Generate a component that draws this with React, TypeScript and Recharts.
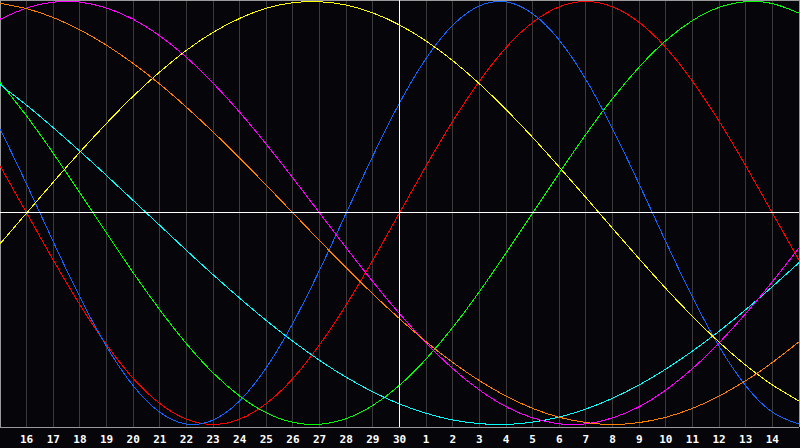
import { LineChart, Line, XAxis, YAxis, CartesianGrid, ReferenceLine } from "recharts";

// day of month for each column, today is the 30th
const dayLabels = [15, 16, 17, 18, 19, 20, 21, 22, 23, 24, 25, 26, 27, 28, 29, 30, 1, 2, 3, 4, 5, 6, 7, 8, 9, 10, 11, 12, 13, 14, 15];
const todayIndex = 15;

// cycle values, -1..1
const physical = [0.398, 0.136, -0.136, -0.398, -0.631, -0.817, -0.942, -0.998, -0.979, -0.888, -0.731, -0.52, -0.27, 0, 0.27, 0.52, 0.731, 0.888, 0.979, 0.998, 0.942, 0.817, 0.631, 0.398, 0.136, -0.136, -0.398, -0.631, -0.817, -0.942, -0.998];
const emotional = [0.223, 0, -0.223, -0.434, -0.623, -0.782, -0.901, -0.975, -1, -0.975, -0.901, -0.782, -0.623, -0.434, -0.223, 0, 0.223, 0.434, 0.623, 0.782, 0.901, 0.975, 1, 0.975, 0.901, 0.782, 0.623, 0.434, 0.223, 0, -0.223];
const intellectual = [0.618, 0.458, 0.282, 0.095, -0.095, -0.282, -0.458, -0.618, -0.756, -0.866, -0.945, -0.99, -0.999, -0.972, -0.91, -0.815, -0.69, -0.541, -0.372, -0.189, 0, 0.189, 0.372, 0.541, 0.69, 0.815, 0.91, 0.972, 0.999, 0.99, 0.945];
const intuitive = [0.916, 0.969, 0.997, 0.997, 0.969, 0.916, 0.837, 0.736, 0.614, 0.476, 0.325, 0.165, 0, -0.165, -0.325, -0.476, -0.614, -0.736, -0.837, -0.916, -0.969, -0.997, -0.997, -0.969, -0.916, -0.837, -0.736, -0.614, -0.476, -0.325, -0.165];
const aesthetic = [-0.146, 0, 0.146, 0.288, 0.424, 0.552, 0.667, 0.769, 0.854, 0.92, 0.968, 0.994, 0.999, 0.983, 0.946, 0.889, 0.813, 0.72, 0.611, 0.489, 0.357, 0.217, 0.073, -0.073, -0.217, -0.357, -0.489, -0.611, -0.72, -0.813, -0.889];
const awareness = [0.991, 0.966, 0.924, 0.866, 0.793, 0.707, 0.609, 0.5, 0.383, 0.259, 0.131, 0, -0.131, -0.259, -0.383, -0.5, -0.609, -0.707, -0.793, -0.866, -0.924, -0.966, -0.991, -1, -0.991, -0.966, -0.924, -0.866, -0.793, -0.707, -0.609];
const spiritual = [0.607, 0.509, 0.403, 0.292, 0.177, 0.059, -0.059, -0.177, -0.292, -0.403, -0.509, -0.607, -0.697, -0.777, -0.846, -0.903, -0.947, -0.979, -0.996, -1, -0.989, -0.965, -0.927, -0.876, -0.813, -0.738, -0.653, -0.559, -0.457, -0.348, -0.235];

const data = dayLabels.map((day, i) => ({
  i,
  day,
  physical: physical[i],
  emotional: emotional[i],
  intellectual: intellectual[i],
  intuitive: intuitive[i],
  aesthetic: aesthetic[i],
  awareness: awareness[i],
  spiritual: spiritual[i],
}));

const ticks = dayLabels.map((_, i) => i).slice(1, -1);
const lastIndex = dayLabels.length - 1;

const series = [
  { key: "emotional", color: "#ff0000" },
  { key: "intellectual", color: "#00ff00" },
  { key: "physical", color: "#1464ff" },
  { key: "spiritual", color: "#00ffff" },
  { key: "intuitive", color: "#ff00ff" },
  { key: "aesthetic", color: "#ffff00" },
  { key: "awareness", color: "#ff8000" },
];

const Y_TOP = 1.007;
const Y_BOTTOM = -1.012;
const crisp = { shapeRendering: "crispEdges" } as const;

export default function App() {
  return (
    <div style={{ position: "absolute", left: 0, top: 0, width: 800, height: 448, background: "#060509" }}>
      <LineChart width={800} height={448} data={data} margin={{ top: 0, right: 1, bottom: 0, left: 0 }}>
        <CartesianGrid vertical horizontal={false} stroke="#3a3a3a" strokeWidth={1} style={crisp} />
        <XAxis
          type="number"
          dataKey="i"
          domain={[0, lastIndex]}
          ticks={ticks}
          tickFormatter={(v) => String(dayLabels[v])}
          interval={0}
          height={21}
          tickLine={false}
          tickSize={6}
          tickMargin={2}
          axisLine={{ stroke: "#9a9a9a", shapeRendering: "crispEdges" }}
          tick={{ fill: "#ffffff", fontFamily: "DejaVu Sans Mono", fontWeight: "bold", fontSize: 11 }}
        />
        <YAxis hide domain={[Y_BOTTOM, Y_TOP]} />
        <ReferenceLine x={0} stroke="#9a9a9a" style={crisp} />
        <ReferenceLine x={lastIndex} stroke="#9a9a9a" style={crisp} />
        <ReferenceLine y={Y_TOP} stroke="#9a9a9a" style={crisp} />
        {series.map((s) => (
          <Line
            key={s.key}
            type="natural"
            dataKey={s.key}
            stroke={s.color}
            strokeWidth={1}
            dot={false}
            activeDot={false}
            isAnimationActive={false}
            style={crisp}
          />
        ))}
        <ReferenceLine x={todayIndex} stroke="#ffffff" style={crisp} />
        <ReferenceLine y={0} stroke="#ffffff" style={crisp} />
      </LineChart>
    </div>
  );
}
